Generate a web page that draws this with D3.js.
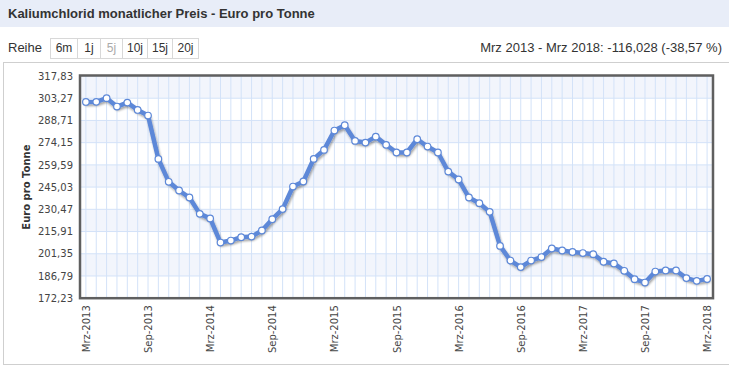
<!DOCTYPE html>
<html>
<head>
<meta charset="utf-8">
<script src="https://cdn.jsdelivr.net/npm/d3@7"></script>
<style>
  html, body { margin: 0; padding: 0; background: #fff; }
  svg { display: block; }
</style>
</head>
<body>
<svg id="chart" width="729" height="367"></svg>
<script>
const title = "Kaliumchlorid monatlicher Preis - Euro pro Tonne";
const rangeButtons = ["6m", "1j", "5j", "10j", "15j", "20j"];
const activeButton = "5j";
const changeText = "Mrz 2013 - Mrz 2018: -116,028 (-38,57 %)";
const yAxisTitle = "Euro pro Tonne";

const months = [
  "Mrz-2013","Apr-2013","Mai-2013","Jun-2013","Jul-2013","Aug-2013","Sep-2013","Okt-2013","Nov-2013","Dez-2013",
  "Jan-2014","Feb-2014","Mrz-2014","Apr-2014","Mai-2014","Jun-2014","Jul-2014","Aug-2014","Sep-2014","Okt-2014",
  "Nov-2014","Dez-2014","Jan-2015","Feb-2015","Mrz-2015","Apr-2015","Mai-2015","Jun-2015","Jul-2015","Aug-2015",
  "Sep-2015","Okt-2015","Nov-2015","Dez-2015","Jan-2016","Feb-2016","Mrz-2016","Apr-2016","Mai-2016","Jun-2016",
  "Jul-2016","Aug-2016","Sep-2016","Okt-2016","Nov-2016","Dez-2016","Jan-2017","Feb-2017","Mrz-2017","Apr-2017",
  "Mai-2017","Jun-2017","Jul-2017","Aug-2017","Sep-2017","Okt-2017","Nov-2017","Dez-2017","Jan-2018","Feb-2018",
  "Mrz-2018"
];
const prices = [
  300.83, 300.9, 303.3, 297.8, 300.4, 295.6, 291.9, 263.5, 248.5, 242.8,
  238.2, 227.5, 224.5, 208.7, 210.0, 212.2, 212.6, 216.6, 224.0, 230.6,
  245.4, 248.7, 263.5, 269.4, 282.1, 285.6, 275.3, 274.2, 278.1, 272.7,
  267.7, 267.7, 276.4, 271.6, 267.7, 255.2, 250.0, 238.2, 234.5, 228.8,
  206.5, 196.9, 192.6, 196.9, 199.2, 204.8, 203.5, 202.5, 201.8, 201.1,
  196.1, 195.0, 190.2, 184.7, 182.5, 189.7, 190.4, 190.4, 185.4, 183.6,
  184.8
];
const xTickLabels = ["Mrz-2013","Sep-2013","Mrz-2014","Sep-2014","Mrz-2015","Sep-2015","Mrz-2016","Sep-2016","Mrz-2017","Sep-2017","Mrz-2018"];
const yTicks = [172.23, 186.79, 201.35, 215.91, 230.47, 245.03, 259.59, 274.15, 288.71, 303.27, 317.83];

const svg = d3.select("#chart");
const W = 729, H = 367;
const plot = { left: 80, right: 713, top: 76, bottom: 298.2 };

// Header bar
svg.append("rect").attr("x", 0).attr("y", 0).attr("width", W).attr("height", 27).attr("fill", "#e8edf8");
svg.append("text").attr("x", 8).attr("y", 18)
  .attr("font-family", "'Liberation Sans Narrow','Arial Narrow',Arial,sans-serif")
  .attr("font-size", 13).attr("font-weight", "bold").attr("fill", "#333")
  .text(title);

// Controls row
const ctrlFont = "'Liberation Sans Narrow','Arial Narrow',Arial,sans-serif";
svg.append("text").attr("x", 8).attr("y", 52).attr("font-family", ctrlFont)
  .attr("font-size", 13).attr("fill", "#333").text("Reihe");
const btnW = [27, 23, 22, 25, 25, 26];
let bx = 50;
const btnG = svg.append("g");
rangeButtons.forEach((b, i) => {
  btnG.append("rect").attr("x", bx + 0.5).attr("y", 38.5).attr("width", btnW[i]).attr("height", 20)
    .attr("fill", "#fff").attr("stroke", "#d8d8d8");
  btnG.append("text").attr("x", bx + btnW[i] / 2 + 0.5).attr("y", 52).attr("text-anchor", "middle")
    .attr("font-family", ctrlFont).attr("font-size", 12)
    .attr("fill", b === activeButton ? "#aaa" : "#333").text(b);
  bx += btnW[i];
});
svg.append("text").attr("x", 722).attr("y", 52).attr("text-anchor", "end")
  .attr("font-family", ctrlFont).attr("font-size", 13).attr("fill", "#333").text(changeText);

// Outer frame
svg.append("rect").attr("x", 3.5).attr("y", 62.5).attr("width", 740).attr("height", 302)
  .attr("fill", "#fff").attr("stroke", "#cfcfcf");

// Scales
const x = d3.scalePoint().domain(months).range([plot.left, plot.right]).padding(0.57);
const y = d3.scaleLinear().domain([yTicks[0], yTicks[yTicks.length - 1]]).range([plot.bottom, plot.top]);

// Bands
const bands = svg.append("g");
for (let i = 0; i < yTicks.length - 1; i++) {
  if (i % 2 === 1) {
    bands.append("rect").attr("x", plot.left).attr("width", plot.right - plot.left)
      .attr("y", y(yTicks[i + 1])).attr("height", y(yTicks[i]) - y(yTicks[i + 1]))
      .attr("fill", "#f2f5fc");
  }
}

// Grid
const grid = svg.append("g").attr("stroke", "#d3e2f8").attr("stroke-width", 1);
months.forEach(m => {
  grid.append("line").attr("x1", x(m)).attr("x2", x(m)).attr("y1", plot.top).attr("y2", plot.bottom);
});
yTicks.forEach(t => {
  grid.append("line").attr("x1", plot.left).attr("x2", plot.right).attr("y1", y(t)).attr("y2", y(t));
});

// Axes
const fmt = d => d.toFixed(2).replace(".", ",");
const yAxis = svg.append("g").attr("transform", `translate(${plot.left},0)`)
  .call(d3.axisLeft(y).tickValues(yTicks).tickFormat(fmt).tickSize(0).tickPadding(7));
yAxis.select(".domain").remove();
yAxis.selectAll("text").attr("font-family", "'DejaVu Sans',Verdana,sans-serif").attr("font-size", 10).attr("fill", "#444");

const xAxis = svg.append("g").attr("transform", `translate(0,${plot.bottom})`)
  .call(d3.axisBottom(x).tickValues(xTickLabels).tickSize(0).tickPadding(0));
xAxis.select(".domain").remove();
xAxis.selectAll("text")
  .attr("font-family", "'DejaVu Sans',Verdana,sans-serif").attr("font-size", 10).attr("fill", "#444")
  .attr("text-anchor", "end").attr("dy", "0.35em")
  .attr("transform", "translate(0,7) rotate(-90)").attr("x", 0).attr("y", 0);

svg.append("text")
  .attr("transform", `translate(30,${(plot.top + plot.bottom) / 2}) rotate(-90)`)
  .attr("text-anchor", "middle")
  .attr("font-family", "'DejaVu Sans',Verdana,sans-serif").attr("font-size", 10).attr("font-weight", "bold")
  .attr("fill", "#333").text(yAxisTitle);

// Shadow filter
const defs = svg.append("defs");
const f = defs.append("filter").attr("id", "sh").attr("x", "-5%").attr("y", "-5%").attr("width", "110%").attr("height", "120%");
f.append("feDropShadow").attr("dx", 1).attr("dy", 2).attr("stdDeviation", 1.3)
  .attr("flood-color", "#000").attr("flood-opacity", 0.35);

const data = months.map((m, i) => ({ m, v: prices[i] }));
const lineColor = "#5d88d8";
svg.append("path").datum(data)
  .attr("fill", "none").attr("stroke", lineColor).attr("stroke-width", 4.5)
  .attr("stroke-linejoin", "round").attr("stroke-linecap", "round")
  .attr("filter", "url(#sh)")
  .attr("d", d3.line().x(d => x(d.m)).y(d => y(d.v)));

svg.append("g").selectAll("circle").data(data).join("circle")
  .attr("cx", d => x(d.m)).attr("cy", d => y(d.v)).attr("r", 3.3)
  .attr("fill", "#fff").attr("stroke", lineColor).attr("stroke-width", 1.2);

// Plot border
svg.append("rect").attr("x", plot.left).attr("y", plot.top - 0.5)
  .attr("width", plot.right - plot.left).attr("height", plot.bottom - plot.top + 0.5)
  .attr("fill", "none").attr("stroke", "#5f5f5f").attr("stroke-width", 2.5);
</script>
</body>
</html>
